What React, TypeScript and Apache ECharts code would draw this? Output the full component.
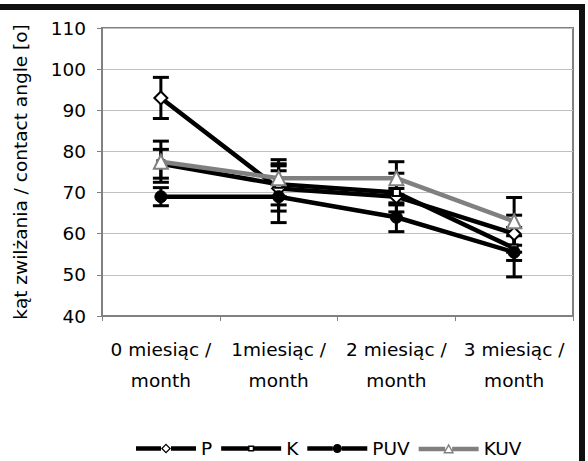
import React, { useEffect, useRef } from "react";
import * as echarts from "echarts";

const categories = ["0 miesiąc /\nmonth", "1miesiąc /\nmonth", "2 miesiąc /\nmonth", "3 miesiąc /\nmonth"];
const seriesNames = ["P", "K", "PUV", "KUV"];
const valuesP = [93, 71, 69, 60];
const valuesK = [77, 72, 70, 56.5];
const valuesPUV = [69, 69, 64, 55.5];
const valuesKUV = [77.5, 73.5, 73.5, 63];
const errP = [5, 5.5, 2, 4.5];
const errK = [3.5, 5, 4.7, 3];
const errPUV = [2.2, 6.3, 3.5, 6];
const errKUV = [5, 4.5, 4, 5.8];
const yTicks = { min: 40, max: 110, interval: 10 };

const FONT = "DejaVu Sans, sans-serif";
const FS = 18.5;

// legend icons drawn in a 60 x 14 box
const iconP =
  "path://M0 4.75L25 4.75L25 9.25L0 9.25Z M35 4.75L60 4.75L60 9.25L35 9.25Z M30 2L35 7L30 12L25 7Z M30 3.8L26.8 7L30 10.2L33.2 7Z";
const iconK =
  "path://M0 4.75L27 4.75L27 9.25L0 9.25Z M33 4.75L60 4.75L60 9.25L33 9.25Z M27 4L33 4L33 10L27 10Z M28.4 5.4L28.4 8.6L31.6 8.6L31.6 5.4Z";
const iconPUV =
  "path://M0 4.75L25.5 4.75L25.5 9.25L0 9.25Z M34.5 4.75L60 4.75L60 9.25L34.5 9.25Z M25.5 7A4.5 4.5 0 1 0 34.5 7A4.5 4.5 0 1 0 25.5 7Z";
const iconKUV =
  "path://M0 4.75L26.5 4.75L26.5 9.25L0 9.25Z M33.5 4.75L60 4.75L60 9.25L33.5 9.25Z M30 1.5L35.5 11.5L24.5 11.5Z M30 4.4L26.8 10.1L33.2 10.1Z";

export default function App() {
  const ref = useRef<HTMLDivElement>(null);
  useEffect(() => {
    if (!ref.current) return;
    const chart = echarts.init(ref.current, null, { renderer: "svg" });
    const values = [valuesP, valuesK, valuesPUV, valuesKUV];
    const errs = [errP, errK, errPUV, errKUV];
    const errData: number[][] = [];
    values.forEach((vals, s) => {
      vals.forEach((v, i) => {
        errData.push([i, v - errs[s][i], v + errs[s][i]]);
      });
    });
    const styles = [
      { symbol: "diamond", symbolSize: 13, color: "#000", fill: "#fff", borderWidth: 2, icon: iconP },
      { symbol: "rect", symbolSize: 7, color: "#000", fill: "#fff", borderWidth: 2, icon: iconK },
      { symbol: "circle", symbolSize: 12, color: "#000", fill: "#000", borderWidth: 1, icon: iconPUV },
      { symbol: "triangle", symbolSize: 14, color: "#808080", fill: "#fff", borderWidth: 2, icon: iconKUV },
    ];
    const lineSeries = seriesNames.map((name, s) => ({
      name,
      type: "line",
      data: values[s],
      symbol: styles[s].symbol,
      symbolSize: styles[s].symbolSize,
      z: 3 + s,
      lineStyle: { color: styles[s].color, width: 4.5 },
      itemStyle: { color: styles[s].fill, borderColor: styles[s].color, borderWidth: styles[s].borderWidth },
    }));
    chart.setOption({
      animation: false,
      textStyle: { fontFamily: FONT },
      grid: { left: 102, top: 28, right: 15, bottom: 145, show: true, borderColor: "#808080", borderWidth: 2, backgroundColor: "transparent" },
      legend: {
        data: seriesNames.map((name, s) => ({
          name,
          icon: styles[s].icon,
          itemStyle: { color: styles[s].color, borderWidth: 0 },
        })),
        left: 131,
        top: 434,
        itemWidth: 60,
        itemHeight: 14,
        itemGap: 9,
        textStyle: { fontSize: FS, color: "#000", fontFamily: FONT },
      },
      xAxis: {
        type: "category",
        data: categories,
        boundaryGap: true,
        axisLine: { lineStyle: { color: "#808080", width: 2 } },
        axisTick: { show: true, length: 5, lineStyle: { color: "#808080", width: 1 } },
        axisLabel: { fontSize: FS, color: "#000", lineHeight: 31, margin: 18, fontFamily: FONT, interval: 0 },
      },
      yAxis: {
        type: "value",
        min: yTicks.min,
        max: yTicks.max,
        interval: yTicks.interval,
        name: "kąt zwilżania / contact angle [o]",
        nameLocation: "middle",
        nameGap: 72,
        nameTextStyle: { fontSize: FS, color: "#000", fontFamily: FONT },
        axisLine: { show: true, lineStyle: { color: "#808080", width: 2 } },
        axisTick: { show: true, length: 5, lineStyle: { color: "#808080", width: 1 } },
        axisLabel: { fontSize: FS, color: "#000", margin: 16, fontFamily: FONT },
        splitLine: { lineStyle: { color: "#c0c0c0", width: 1 } },
      },
      graphic: [
        { type: "rect", shape: { x: -10, y: 7, width: 592, height: 480 }, style: { fill: "none", stroke: "#111", lineWidth: 6 }, z: 100, silent: true },
      ],
      series: [
        {
          type: "custom",
          name: "err",
          z: 2,
          data: errData,
          renderItem: (params: any, api: any) => {
            const x = api.coord([api.value(0), api.value(1)])[0];
            const yLow = api.coord([api.value(0), api.value(1)])[1];
            const yHigh = api.coord([api.value(0), api.value(2)])[1];
            const w = 8;
            const st = { stroke: "#000", lineWidth: 3 };
            return {
              type: "group",
              children: [
                { type: "line", shape: { x1: x, y1: yLow, x2: x, y2: yHigh }, style: st },
                { type: "line", shape: { x1: x - w, y1: yLow, x2: x + w, y2: yLow }, style: st },
                { type: "line", shape: { x1: x - w, y1: yHigh, x2: x + w, y2: yHigh }, style: st },
              ],
            };
          },
        },
        ...lineSeries,
      ],
    });
    return () => chart.dispose();
  }, []);
  return (
    <div
      ref={ref}
      style={{ position: "fixed", left: 0, top: 0, width: 588, height: 461, background: "#fff" }}
    />
  );
}
